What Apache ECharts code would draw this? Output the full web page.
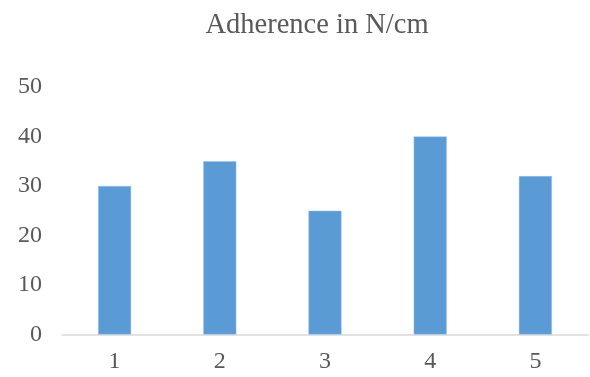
<!DOCTYPE html>
<html><head><meta charset="utf-8">
<script src="https://cdn.jsdelivr.net/npm/echarts@6/dist/echarts.min.js"></script>
<style>html,body{margin:0;padding:0;background:#fff}#c{width:590px;height:377px}</style>
</head><body><div id="c"></div>
<script>
const titleText = "Adherence in N/cm";
const categories = ["1", "2", "3", "4", "5"];
const values = [30, 35, 25, 40, 32];
const yTicks = { min: 0, max: 50, interval: 10 };

const chart = echarts.init(document.getElementById('c'), null, { renderer: 'canvas' });
chart.setOption({
  animation: false,
  backgroundColor: '#ffffff',
  title: {
    text: titleText,
    left: 312, top: 6, textAlign: 'center',
    textStyle: { fontFamily: 'Liberation Serif', fontSize: 28.5, fontWeight: 'normal', color: '#595959' }
  },
  grid: { left: 62, right: 2, top: 87, bottom: 42.5 },
  xAxis: {
    type: 'category', data: categories,
    axisLine: { lineStyle: { color: '#d9d9d9', width: 1.5 } },
    axisTick: { show: false },
    axisLabel: { fontFamily: 'Liberation Serif', fontSize: 24, color: '#595959', margin: 15 }
  },
  yAxis: {
    type: 'value', min: yTicks.min, max: yTicks.max, interval: yTicks.interval,
    axisLine: { show: false }, axisTick: { show: false },
    splitLine: { show: false },
    axisLabel: { fontFamily: 'Liberation Serif', fontSize: 24, color: '#595959', margin: 20 }
  },
  series: [{
    type: 'bar', data: values, barWidth: '31.4%',
    itemStyle: { color: '#5b9bd5', borderColor: '#9dc3e6', borderWidth: 0.5 }
  }]
});
</script></body></html>
